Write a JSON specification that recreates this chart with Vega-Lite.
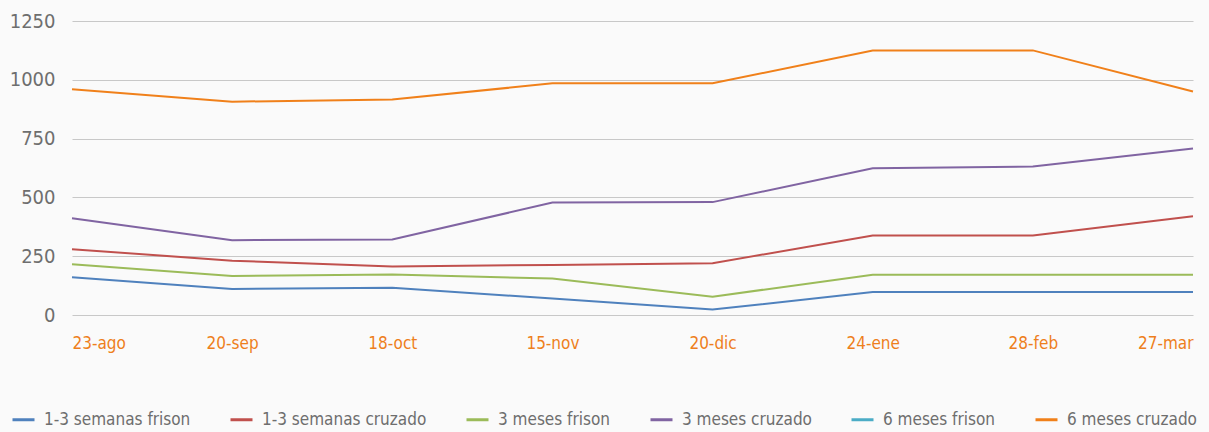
{
  "$schema": "https://vega.github.io/schema/vega-lite/v6.json",
  "width": 1121,
  "height": 294,
  "autosize": {"type": "none"},
  "padding": {"left": 72, "top": 21, "right": 16, "bottom": 117},
  "background": "#FAFAFA",
  "config": {
    "font": "DejaVu Sans Condensed",
    "view": {"stroke": null}
  },
  "data": {
    "values": [
      {"fecha": "23-ago", "serie": "1-3 semanas frison", "valor": 161},
      {"fecha": "20-sep", "serie": "1-3 semanas frison", "valor": 111},
      {"fecha": "18-oct", "serie": "1-3 semanas frison", "valor": 116},
      {"fecha": "15-nov", "serie": "1-3 semanas frison", "valor": 70},
      {"fecha": "20-dic", "serie": "1-3 semanas frison", "valor": 23},
      {"fecha": "24-ene", "serie": "1-3 semanas frison", "valor": 98},
      {"fecha": "28-feb", "serie": "1-3 semanas frison", "valor": 98},
      {"fecha": "27-mar", "serie": "1-3 semanas frison", "valor": 98},
      {"fecha": "23-ago", "serie": "1-3 semanas cruzado", "valor": 280},
      {"fecha": "20-sep", "serie": "1-3 semanas cruzado", "valor": 231},
      {"fecha": "18-oct", "serie": "1-3 semanas cruzado", "valor": 206},
      {"fecha": "15-nov", "serie": "1-3 semanas cruzado", "valor": 213},
      {"fecha": "20-dic", "serie": "1-3 semanas cruzado", "valor": 220},
      {"fecha": "24-ene", "serie": "1-3 semanas cruzado", "valor": 338},
      {"fecha": "28-feb", "serie": "1-3 semanas cruzado", "valor": 338},
      {"fecha": "27-mar", "serie": "1-3 semanas cruzado", "valor": 420},
      {"fecha": "23-ago", "serie": "3 meses frison", "valor": 216},
      {"fecha": "20-sep", "serie": "3 meses frison", "valor": 166},
      {"fecha": "18-oct", "serie": "3 meses frison", "valor": 172},
      {"fecha": "15-nov", "serie": "3 meses frison", "valor": 155},
      {"fecha": "20-dic", "serie": "3 meses frison", "valor": 78},
      {"fecha": "24-ene", "serie": "3 meses frison", "valor": 171},
      {"fecha": "28-feb", "serie": "3 meses frison", "valor": 171},
      {"fecha": "27-mar", "serie": "3 meses frison", "valor": 171},
      {"fecha": "23-ago", "serie": "3 meses cruzado", "valor": 411},
      {"fecha": "20-sep", "serie": "3 meses cruzado", "valor": 318},
      {"fecha": "18-oct", "serie": "3 meses cruzado", "valor": 321},
      {"fecha": "15-nov", "serie": "3 meses cruzado", "valor": 478},
      {"fecha": "20-dic", "serie": "3 meses cruzado", "valor": 480},
      {"fecha": "24-ene", "serie": "3 meses cruzado", "valor": 624},
      {"fecha": "28-feb", "serie": "3 meses cruzado", "valor": 631},
      {"fecha": "27-mar", "serie": "3 meses cruzado", "valor": 708},
      {"fecha": "23-ago", "serie": "6 meses cruzado", "valor": 960},
      {"fecha": "20-sep", "serie": "6 meses cruzado", "valor": 907},
      {"fecha": "18-oct", "serie": "6 meses cruzado", "valor": 916},
      {"fecha": "15-nov", "serie": "6 meses cruzado", "valor": 985},
      {"fecha": "20-dic", "serie": "6 meses cruzado", "valor": 985},
      {"fecha": "24-ene", "serie": "6 meses cruzado", "valor": 1125},
      {"fecha": "28-feb", "serie": "6 meses cruzado", "valor": 1125},
      {"fecha": "27-mar", "serie": "6 meses cruzado", "valor": 950}
    ]
  },
  "mark": {"type": "line", "strokeWidth": 2},
  "encoding": {
    "x": {
      "field": "fecha",
      "type": "ordinal",
      "sort": ["23-ago", "20-sep", "18-oct", "15-nov", "20-dic", "24-ene", "28-feb", "27-mar"],
      "scale": {"type": "point", "padding": 0},
      "axis": {
        "title": null,
        "domain": false,
        "ticks": false,
        "labelAngle": 0,
        "labelFlush": true,
        "labelColor": "#EE7F1C",
        "labelFontSize": 17,
        "labelPadding": 20,
        "grid": false
      }
    },
    "y": {
      "field": "valor",
      "type": "quantitative",
      "scale": {"domain": [0, 1250], "nice": false},
      "axis": {
        "title": null,
        "values": [0, 250, 500, 750, 1000, 1250],
        "format": "d",
        "domain": false,
        "ticks": false,
        "labelColor": "#6E6E6E",
        "labelFontSize": 20,
        "labelPadding": 17,
        "gridColor": "#C8C8C8",
        "gridWidth": 1
      }
    },
    "color": {
      "field": "serie",
      "type": "nominal",
      "scale": {
        "domain": ["1-3 semanas frison", "1-3 semanas cruzado", "3 meses frison", "3 meses cruzado", "6 meses frison", "6 meses cruzado"],
        "range": ["#4F81BD", "#C0504D", "#9BBB59", "#8064A2", "#4BACC6", "#F0801A"]
      },
      "legend": {
        "title": null,
        "orient": "none",
        "direction": "horizontal",
        "legendX": -61,
        "legendY": 386,
        "padding": 0,
        "symbolType": "stroke",
        "symbolSize": 484,
        "symbolStrokeWidth": 3,
        "labelFontSize": 17,
        "labelColor": "#6E6E6E",
        "labelOffset": 8,
        "columnPadding": 33,
        "labelLimit": 300
      }
    }
  }
}
